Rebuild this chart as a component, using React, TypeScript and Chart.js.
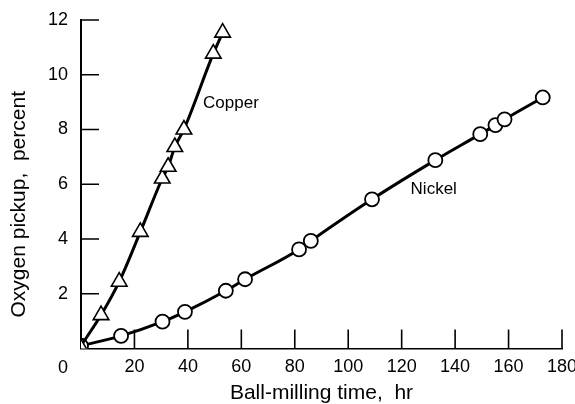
import React, { useEffect, useRef } from 'react';
import { Chart, registerables } from 'chart.js';

Chart.register(...registerables);

// ---- data ----
const copperHours = [0, 7.5, 14.3, 22.2, 30.4, 32.6, 35.1, 38.5, 49.5, 53.0];
const copperOxygen = [0.1, 1.22, 2.44, 4.26, 6.21, 6.64, 7.36, 8.0, 10.77, 11.54];
const nickelHours = [0, 15.0, 30.5, 38.9, 54.2, 61.4, 81.6, 86.0, 108.9, 132.6, 149.4, 155.1, 158.5, 172.8];
const nickelOxygen = [0.1, 0.46, 0.98, 1.34, 2.11, 2.53, 3.62, 3.93, 5.45, 6.88, 7.83, 8.16, 8.37, 9.17];
const seriesNames = ['Copper', 'Nickel'];
const xTickValues = [0, 20, 40, 60, 80, 100, 120, 140, 160, 180];
const yTickValues = [0, 2, 4, 6, 8, 10, 12];
const originLabel = '0';
const xTitle = 'Ball-milling time,  hr';
const yTitle = 'Oxygen pickup,  percent';
// label anchors (data coordinates) for series names
const copperLabelAt = [56.1, 8.96];
const nickelLabelAt = [132, 5.82];

const NARROW = "'Liberation Sans Narrow', 'Liberation Sans', Arial, sans-serif";
const SANS = "'Liberation Sans', Arial, sans-serif";

const decorPlugin = {
  id: 'decor',
  beforeDatasetsDraw(chart: any) {
    const { ctx, chartArea, scales } = chart;
    const { left, right, top, bottom } = chartArea;
    const x = scales.x;
    const y = scales.y;
    ctx.save();
    ctx.strokeStyle = '#000';
    ctx.lineWidth = 1.6;
    ctx.beginPath();
    xTickValues.forEach((v) => {
      if (v === 0) return;
      const px = x.getPixelForValue(v);
      ctx.moveTo(px, bottom);
      ctx.lineTo(px, bottom - 19);
    });
    yTickValues.forEach((v) => {
      if (v === 0) return;
      const py = y.getPixelForValue(v);
      ctx.moveTo(left, py);
      ctx.lineTo(left + 18, py);
    });
    ctx.stroke();

    ctx.fillStyle = '#000';
    // origin "0"
    ctx.font = `18px ${NARROW}`;
    ctx.textAlign = 'center';
    ctx.textBaseline = 'middle';
    ctx.fillText(originLabel, left - 18, bottom + 19.5);

    // axis titles
    ctx.font = `21px ${SANS}`;
    ctx.textBaseline = 'alphabetic';
    ctx.fillText(xTitle, (left + right) / 2, bottom + 50.5);
    ctx.save();
    ctx.translate(25, (top + bottom) / 2 + 20);
    ctx.rotate(-Math.PI / 2);
    ctx.fillText(yTitle, 0, 0);
    ctx.restore();

    // series labels
    ctx.font = `17px ${SANS}`;
    ctx.textBaseline = 'middle';
    ctx.fillText(seriesNames[0], x.getPixelForValue(copperLabelAt[0]), y.getPixelForValue(copperLabelAt[1]));
    ctx.fillText(seriesNames[1], x.getPixelForValue(nickelLabelAt[0]), y.getPixelForValue(nickelLabelAt[1]));
    ctx.restore();
  },
};

export default function App() {
  const canvasRef = useRef<HTMLCanvasElement | null>(null);

  useEffect(() => {
    if (!canvasRef.current) return;
    const copperData = copperHours.map((h, i) => ({ x: h, y: copperOxygen[i] }));
    const nickelData = nickelHours.map((h, i) => ({ x: h, y: nickelOxygen[i] }));
    const chart = new Chart(canvasRef.current, {
      type: 'line',
      data: {
        datasets: [
          {
            label: seriesNames[0],
            data: copperData,
            borderColor: '#000',
            borderWidth: 3,
            backgroundColor: '#fff',
            pointStyle: 'triangle',
            pointRadius: (c: any) => (c.dataIndex === 0 ? 6.5 : 9),
            pointBorderWidth: 1.6,
            pointBackgroundColor: '#fff',
            pointBorderColor: '#000',
            cubicInterpolationMode: 'monotone',
          },
          {
            label: seriesNames[1],
            data: nickelData,
            borderColor: '#000',
            borderWidth: 3,
            backgroundColor: '#fff',
            pointStyle: 'circle',
            pointRadius: 7,
            pointBorderWidth: 1.8,
            pointBackgroundColor: '#fff',
            pointBorderColor: '#000',
            cubicInterpolationMode: 'monotone',
          },
        ],
      },
      options: {
        animation: false,
        responsive: true,
        maintainAspectRatio: false,
        layout: { padding: { top: 20, right: 13, left: 0, bottom: 0 } },
        plugins: { legend: { display: false }, tooltip: { enabled: false } },
        scales: {
          x: {
            type: 'linear',
            min: 0,
            max: 180,
            afterBuildTicks: (s: any) => {
              s.ticks = xTickValues.map((v) => ({ value: v }));
            },
            ticks: {
              color: '#000',
              font: { family: NARROW, size: 18 },
              padding: 8,
              maxRotation: 0,
              callback: (v: any) => (v === 0 ? '' : String(v)),
            },
            grid: { display: false, drawTicks: false },
            border: { display: true, color: '#000', width: 1.6 },
            afterFit: (s: any) => {
              s.height = 404 - 348.5;
              s.paddingLeft = 0;
              s.paddingRight = 0;
            },
          },
          y: {
            type: 'linear',
            min: 0,
            max: 12,
            afterBuildTicks: (s: any) => {
              s.ticks = yTickValues.map((v) => ({ value: v }));
            },
            ticks: {
              color: '#000',
              font: { family: NARROW, size: 18 },
              padding: 13,
              callback: (v: any) => (v === 0 ? '' : String(v)),
            },
            grid: { display: false, drawTicks: false },
            border: { display: true, color: '#000', width: 2 },
            afterFit: (s: any) => {
              s.width = 81;
              s.paddingTop = 0;
              s.paddingBottom = 0;
            },
          },
        },
      },
      plugins: [decorPlugin],
    } as any);
    return () => chart.destroy();
  }, []);

  return (
    <div style={{ position: 'absolute', left: 0, top: 0, width: 575, height: 404, background: '#fff' }}>
      <canvas ref={canvasRef} />
    </div>
  );
}
